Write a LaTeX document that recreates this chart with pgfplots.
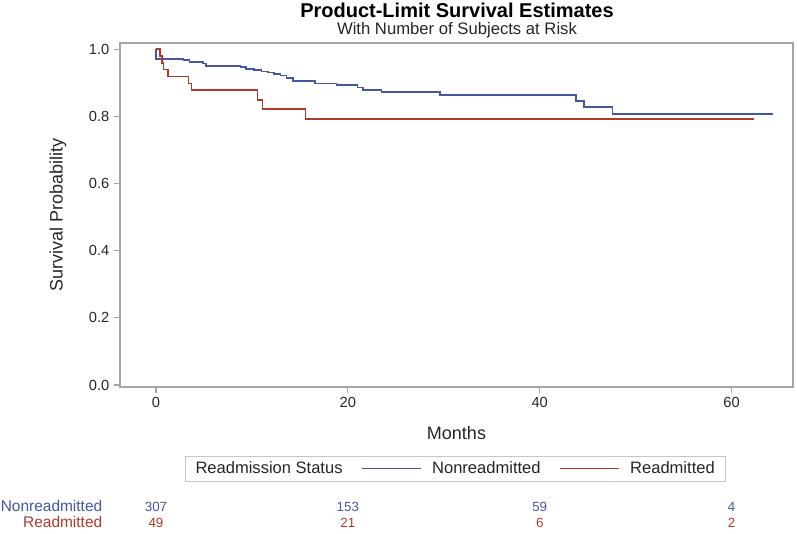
\documentclass[border=0pt]{standalone}
\usepackage{fontspec}
\setmainfont{Liberation Sans}
\usepackage{pgfplots}
\pgfplotsset{compat=1.18}
\definecolor{kmblue}{RGB}{69,86,162}
\definecolor{kmred}{RGB}{176,56,44}
\definecolor{framegray}{RGB}{165,165,165}

% Kaplan-Meier steps
\pgfplotstableread{
t     s
0     1.000
0     0.970
2.85  0.967
3.5   0.962
4.9   0.957
5.2   0.950
8.8   0.946
9.4   0.941
10.2  0.938
11.0  0.933
11.7  0.930
12.3  0.926
13.0  0.921
13.6  0.914
14.3  0.905
16.6  0.897
18.8  0.893
21.0  0.886
21.6  0.878
23.5  0.872
29.6  0.863
43.8  0.846
44.6  0.828
47.6  0.806
64.3  0.806
}\nonreadm

\pgfplotstableread{
t     s
0     1.000
0.4   0.980
0.6   0.959
0.8   0.939
1.25  0.918
3.4   0.898
3.7   0.878
10.6  0.848
11.1  0.821
15.6  0.791
62.3  0.791
}\readm

\tikzset{riskb/.style={font=\fontsize{10}{12}\selectfont, text=kmblue, anchor=base},
         riskr/.style={font=\fontsize{10}{12}\selectfont, text=kmred, anchor=base}}

\begin{document}
\begin{tikzpicture}
\begin{axis}[
  at={(0,0)}, anchor=south west,
  scale only axis, width=504.75pt, height=258pt,
  xmin=-3.75, xmax=66.4, ymin=-0.006, ymax=1.018,
  xtick={0,20,40,60}, ytick={0,0.2,0.4,0.6,0.8,1.0},
  /pgf/number format/assume math mode=true,
  yticklabel style={/pgf/number format/.cd, fixed, fixed zerofill, precision=1},
  ticklabel style={font=\fontsize{11}{13}\selectfont, text=black!85},
  axis line style={framegray, line width=0.8pt},
  tick style={framegray, line width=0.8pt},
  tick align=outside, major tick length=4.5pt,
  xtick pos=bottom, ytick pos=left,
  xlabel={Months}, ylabel={Survival Probability},
  label style={font=\fontsize{13.5}{16}\selectfont, text=black!85},
  xlabel style={at={(axis description cs:0.5,-0.154)}, anchor=base},
  ylabel style={at={(axis description cs:-0.092,0.5)}, anchor=center},
  clip=false,
  legend columns=-1,
  legend style={at={(axis description cs:0.498,-0.237)}, anchor=center,
    draw=gray!45, font=\fontsize{12.4}{14}\selectfont, text=black!85,
    inner xsep=6pt, inner ysep=2pt,
    /tikz/every even column/.append style={column sep=12pt}},
  legend image code/.code={\draw[#1] (0pt,0pt) -- (44pt,0pt); \path (50pt,0pt);},
]
\addlegendimage{empty legend}
\addlegendentry{Readmission Status}
\addplot[const plot, kmblue, line width=1.2pt] table[x=t, y=s] {\nonreadm};
\addlegendentry{Nonreadmitted}
\addplot[const plot, kmred, line width=1.2pt] table[x=t, y=s] {\readm};
\addlegendentry{Readmitted}

% titles
\node[font=\bfseries\fontsize{15}{18}\selectfont, anchor=base] at (axis description cs:0.5007,1.0727) {Product-Limit Survival Estimates};
\node[font=\fontsize{12.5}{15}\selectfont, anchor=base, text=black!85] at (axis description cs:0.5007,1.0233) {With Number of Subjects at Risk};

% number at risk
\node[font=\fontsize{11.6}{14}\selectfont, text=kmblue, anchor=base east] at (axis cs:-5.11,-0.3765) {Nonreadmitted};
\node[font=\fontsize{11.6}{14}\selectfont, text=kmred, anchor=base east] at (axis cs:-5.11,-0.424) {Readmitted};
\node[riskb] at (axis cs:0,-0.3765) {307};
\node[riskb] at (axis cs:20,-0.3765) {153};
\node[riskb] at (axis cs:40,-0.3765) {59};
\node[riskb] at (axis cs:60,-0.3765) {4};
\node[riskr] at (axis cs:0,-0.424) {49};
\node[riskr] at (axis cs:20,-0.424) {21};
\node[riskr] at (axis cs:40,-0.424) {6};
\node[riskr] at (axis cs:60,-0.424) {2};
\end{axis}
\pgfresetboundingbox
\path[use as bounding box] (-90pt,-109.5pt) rectangle (507.75pt,290.25pt);
\end{tikzpicture}
\end{document}
